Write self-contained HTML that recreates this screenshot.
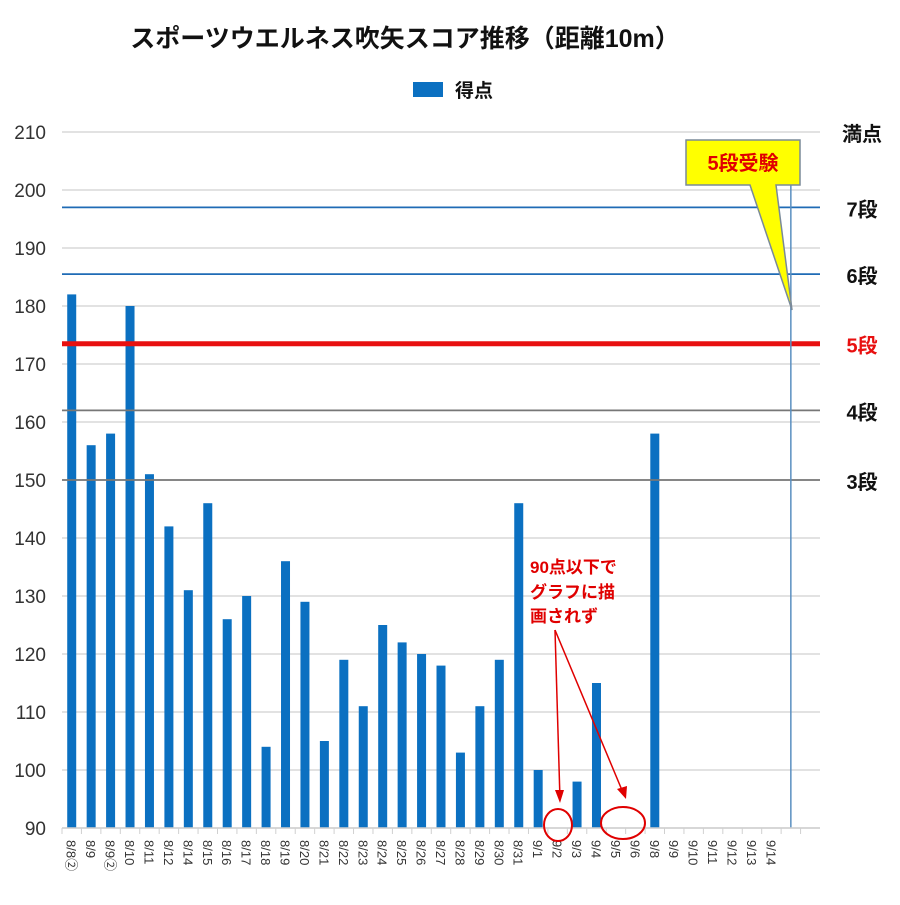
<!DOCTYPE html>
<html><head><meta charset="utf-8"><style>
body{margin:0;background:#fff;}
svg text{font-family:"Liberation Sans","Noto Sans CJK JP",sans-serif;}
</style></head><body>
<svg id="c" width="900" height="900" xmlns="http://www.w3.org/2000/svg">
<text x="405" y="47" font-size="25" font-weight="bold" text-anchor="middle" fill="#111">スポーツウエルネス吹矢スコア推移（距離10m）</text>
<rect x="413" y="82" width="30" height="15" fill="#0b70c1"/>
<text x="455" y="97" font-size="19" font-weight="bold" fill="#111">得点</text>
<g id="grid"></g><g id="bars"></g><g id="levels"></g><g id="xaxis"></g>
<g>
<polygon points="686,140 800,140 800,185 776,185 792,310 750,185 686,185" fill="#ffff00" stroke="#7a8a99" stroke-width="1.5"/>
<text x="743" y="170" font-size="20" font-weight="bold" fill="#e00000" text-anchor="middle">5段受験</text>
</g>
<g fill="#e00000" font-size="17" font-weight="bold">
<text x="530" y="573">90点以下で</text>
<text x="530" y="598">グラフに描</text>
<text x="530" y="622">画されず</text>
<line x1="555" y1="630" x2="560" y2="800" stroke="#e00000" stroke-width="1.5"/>
<polygon points="560,803 555,790 564,790" fill="#e00000"/>
<line x1="555" y1="630" x2="624" y2="795" stroke="#e00000" stroke-width="1.5"/>
<polygon points="626,799 617,789 627,786" fill="#e00000"/>
<ellipse cx="558" cy="825" rx="14" ry="16" fill="none" stroke="#e00000" stroke-width="2"/>
<ellipse cx="623" cy="823" rx="22" ry="16" fill="none" stroke="#e00000" stroke-width="2"/>
</g>
</svg>
<script>
const categories=["8/8②","8/9","8/9②","8/10","8/11","8/12","8/14","8/15","8/16","8/17","8/18","8/19","8/20","8/21","8/22","8/23","8/24","8/25","8/26","8/27","8/28","8/29","8/30","8/31","9/1","9/2","9/3","9/4","9/5","9/6","9/8","9/9","9/10","9/11","9/12","9/13","9/14","",""];
const scores=[182,156,158,180,151,142,131,146,126,130,104,136,129,105,119,111,125,122,120,118,103,111,119,146,100,null,98,115,null,null,158,null,null,null,null,null,null,null,null];
const yTicks=[90,100,110,120,130,140,150,160,170,180,190,200,210];
const levelNames=["3段","4段","5段","6段","7段","満点"];
const levelValues=[150,162,173.5,185.5,197,210];
const examIndex=37;
const NS="http://www.w3.org/2000/svg";
const L=62,R=820,T=132,B=828,yMin=90,yMax=210;
const band=(R-L)/categories.length;
const y=v=>B-(v-yMin)/(yMax-yMin)*(B-T);
const x=i=>L+band*(i+0.5);
function mk(tag,attrs,parent,txt){const e=document.createElementNS(NS,tag);for(const k in attrs)e.setAttribute(k,attrs[k]);if(txt!==undefined)e.textContent=txt;document.getElementById(parent).appendChild(e);return e;}
yTicks.forEach(t=>{
 const l=mk('line',{x1:L,x2:R,y1:y(t),y2:y(t),stroke:'#d9d9d9','stroke-width':1.5},'grid');
 
 
 const tx=mk('text',{x:46,y:y(t)+7,'font-size':19,'text-anchor':'end',fill:'#333'},'grid',t);
 
 
});
scores.forEach((v,i)=>{
 if(v==null||v<yMin)return;
 const r=mk('rect',{x:x(i)-4.5,y:y(v),width:9,height:B-y(v),fill:'#0b70c1'},'bars');
 
 
});
const lvColor=['#777','#777','#e81010','#1f6bb5','#1f6bb5',null];
levelValues.forEach((v,i)=>{
 if(lvColor[i]){
  const l=mk('line',{x1:L,x2:R,y1:y(v),y2:y(v),stroke:lvColor[i],'stroke-width':i==2?5:1.8},'levels');
  
  
 }
 const t=mk('text',{x:862,y:y(v)+9,'font-size':20,'font-weight':'bold','text-anchor':'middle',fill:i==2?'#e81010':'#111'},'levels',levelNames[i]);
 
 
});
const ex=mk('line',{x1:x(examIndex),x2:x(examIndex),y1:y(yMax)+10,y2:B,stroke:'#5a8fc0','stroke-width':1.5},'levels');


const ax=mk('line',{x1:L,x2:R,y1:B,y2:B,stroke:'#d0d0d0','stroke-width':1.5},'xaxis');


categories.forEach((c,i)=>{
 const tk=mk('line',{x1:L+band*i,x2:L+band*i,y1:B,y2:B+6,stroke:'#d0d0d0'},'xaxis');
 
 
 const t=mk('text',{x:0,y:0,'font-size':13,fill:'#333',transform:`translate(${x(i)-5},${B+12}) rotate(90)`},'xaxis',c);
 
 
});
</script>
</body></html>
